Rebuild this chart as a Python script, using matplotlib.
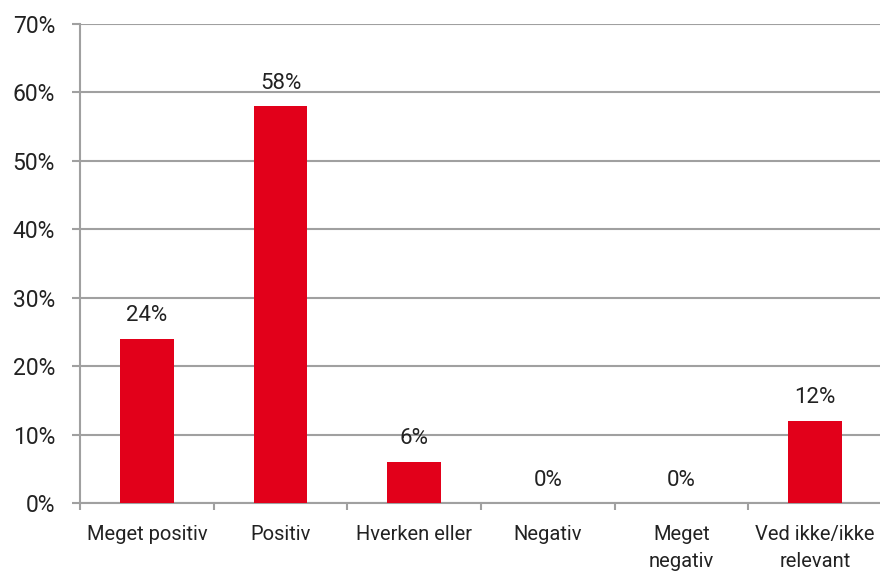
import matplotlib.pyplot as plt
import numpy as np

# survey answers, share of respondents
categories = ['Meget positiv', 'Positiv', 'Hverken eller', 'Negativ',
              'Meget\nnegativ', 'Ved ikke/ikke\nrelevant']
values = [24, 58, 6, 0, 0, 12]
y_ticks = [0, 10, 20, 30, 40, 50, 60, 70]

plt.rcParams['font.family'] = ['Roboto', 'DejaVu Sans']

fig = plt.figure(figsize=(8.8, 5.71), dpi=100)
ax = fig.add_axes([80 / 880, 68 / 571, 802 / 880, 479 / 571])

x = np.arange(len(categories))
ax.bar(x, values, width=0.4, color='#e2001a', zorder=3)

for xi, v in zip(x, values):
    ax.annotate(f'{v}%', (xi, v), xytext=(0, 9), textcoords='offset points',
                ha='center', va='bottom', fontsize=16, color='#222222')

ax.set_xlim(-0.5, len(categories) - 0.5)
ax.set_ylim(0, 70)
ax.set_yticks(y_ticks)
ax.set_yticklabels([f'{t}%' for t in y_ticks], fontsize=16.5, color='#222222')
ax.yaxis.grid(True, color='#a0a0a0', linewidth=1.5, zorder=0)

ax.set_xticks(x)
ax.set_xticklabels(categories, fontsize=14.5, color='#222222', linespacing=1.55)
ax.set_xticks(np.arange(-0.5, len(categories)), minor=True)
ax.tick_params(axis='x', which='major', length=0, pad=16)
ax.tick_params(axis='x', which='minor', length=5, width=1.5, color='#a0a0a0')
ax.tick_params(axis='y', length=6, width=1.5, color='#a0a0a0', pad=12)

for s in ['top', 'right']:
    ax.spines[s].set_visible(False)
for s in ['left', 'bottom']:
    ax.spines[s].set_color('#a0a0a0')
    ax.spines[s].set_linewidth(1.5)

fig.savefig('out.png', dpi=100)
